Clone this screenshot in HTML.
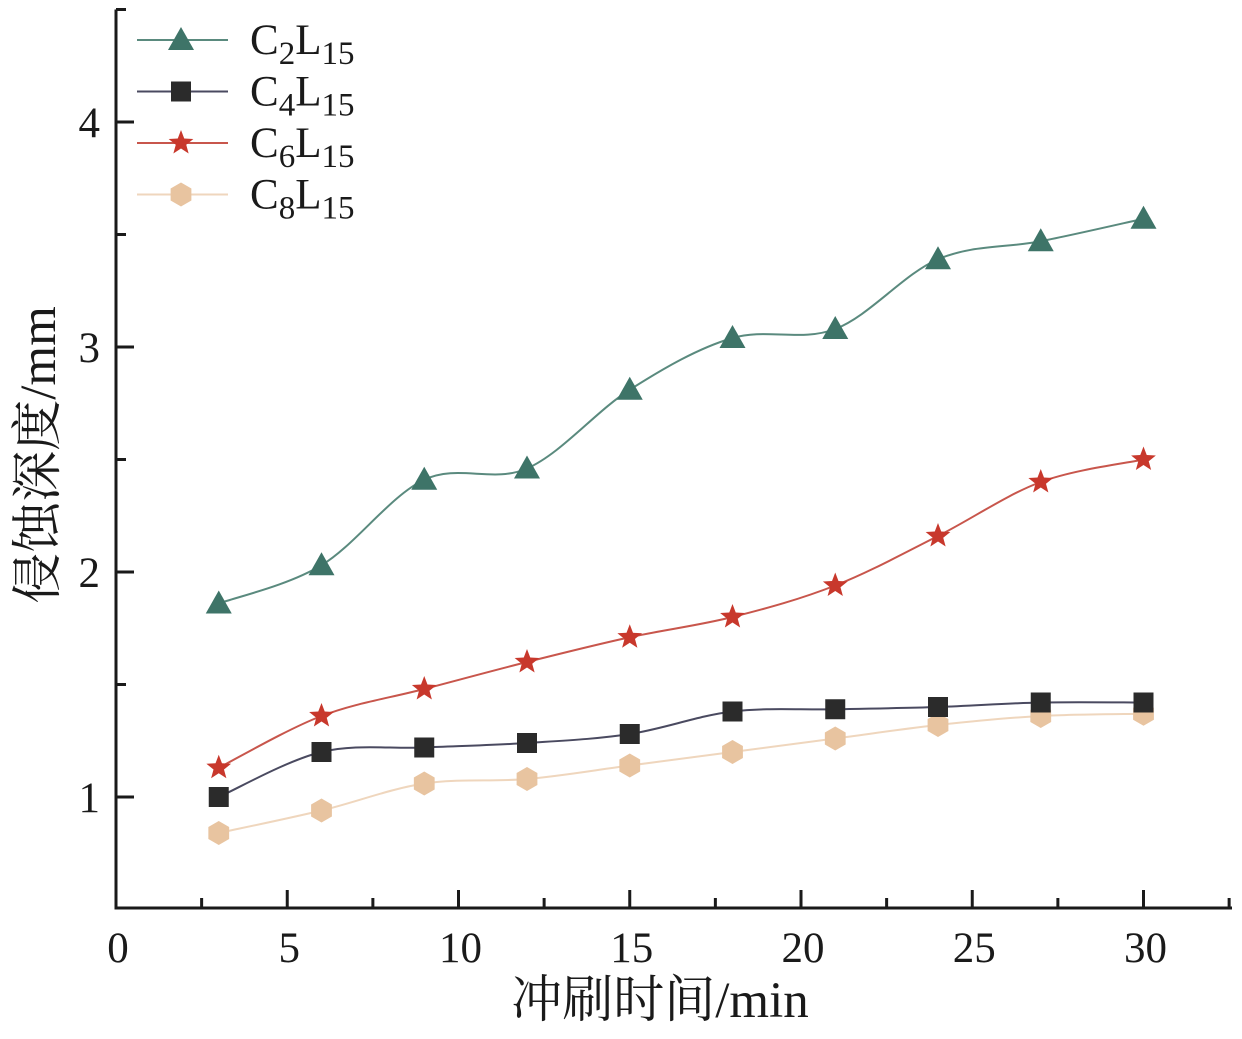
<!DOCTYPE html>
<html><head><meta charset="utf-8"><style>
body{margin:0;background:#fff}
svg text{font-family:"Liberation Serif","Noto Serif CJK SC",serif;fill:#1a1a1a}
</style></head><body>
<svg id="chart" width="1242" height="1034" viewBox="0 0 1242 1034" xmlns="http://www.w3.org/2000/svg">
<g id="plot"></g>
</svg>
<script>
const times=[3,6,9,12,15,18,21,24,27,30];
const c2=[1.86,2.03,2.41,2.46,2.81,3.04,3.08,3.39,3.47,3.57];
const c4=[1.00,1.20,1.22,1.24,1.28,1.38,1.39,1.40,1.42,1.42];
const c6=[1.13,1.36,1.48,1.60,1.71,1.80,1.94,2.16,2.40,2.50];
const c8=[0.84,0.94,1.06,1.08,1.14,1.20,1.26,1.32,1.36,1.37];
const xTicks=[0,5,10,15,20,25,30];
const yTicks=[1,2,3,4];
const seriesNames=["C2L15","C4L15","C6L15","C8L15"];
const NS="http://www.w3.org/2000/svg";
const g=document.getElementById('plot');
const X=v=>116+v*34.25, Y=v=>1022-v*225;
function mk(t,a,p){const e=document.createElementNS(NS,t);for(const k in a)e.setAttribute(k,a[k]);(p||g).appendChild(e);return e;}
let ax=mk('path',{d:`M116 ${Y(4.5)} V908 H1232`,fill:'none',stroke:'#1a1a1a','stroke-width':3});


for(let v=2.5;v<=32.5;v+=2.5){const maj=v%5===0;let t=mk('line',{x1:X(v),x2:X(v),y1:908,y2:maj?890:898,stroke:'#1a1a1a','stroke-width':3});

}
for(let v=1.0;v<=4.5;v+=0.5){const maj=v%1===0;let t=mk('line',{x1:116,x2:maj?134:126,y1:Y(v),y2:Y(v),stroke:'#1a1a1a','stroke-width':3});

}
xTicks.forEach(v=>{let t=mk('text',{x:X(v)+2,y:962,'font-size':43,'text-anchor':'middle'});t.textContent=v;

});
yTicks.forEach(v=>{let t=mk('text',{x:100,y:Y(v)+15,'font-size':43,'text-anchor':'end'});t.textContent=v;

});
let xt=mk('text',{x:660,y:1017,'font-size':51,'text-anchor':'middle'});xt.textContent='冲刷时间/min';


let yt=mk('text',{x:0,y:0,'font-size':51,'text-anchor':'middle',transform:'translate(55,455) rotate(-90)'});yt.textContent='侵蚀深度/mm';


function smooth(pts){let d=`M${pts[0][0]} ${pts[0][1]}`;for(let i=0;i<pts.length-1;i++){const p0=pts[i-1]||pts[i],p1=pts[i],p2=pts[i+1],p3=pts[i+2]||p2;
d+=` C${p1[0]+(p2[0]-p0[0])/6} ${p1[1]+(p2[1]-p0[1])/6} ${p2[0]-(p3[0]-p1[0])/6} ${p2[1]-(p3[1]-p1[1])/6} ${p2[0]} ${p2[1]}`;}return d;}
function marker(type,x,y,col,p){
 if(type==='tri')return mk('polygon',{points:`${x},${y-13} ${x+13},${y+10} ${x-13},${y+10}`,fill:col},p);
 if(type==='sq')return mk('rect',{x:x-10,y:y-10,width:20,height:20,fill:col},p);
 if(type==='star'){let s='';for(let i=0;i<10;i++){const r=i%2?5.5:13,a=-Math.PI/2+i*Math.PI/5;s+=`${x+r*Math.cos(a)},${y+r*Math.sin(a)} `;}return mk('polygon',{points:s,fill:col},p);}
 let s='';for(let i=0;i<6;i++){const a=-Math.PI/2+i*Math.PI/3;s+=`${x+12*Math.cos(a)},${y+12*Math.sin(a)} `;}return mk('polygon',{points:s,fill:col},p);
}
const series=[[c8,'hex','#e8c4a0','#efd6bd'],[c4,'sq','#2b2b2b','#4a4a60'],[c6,'star','#c8382c','#c8564c'],[c2,'tri','#3e7468','#5a8a7e']];
series.forEach(([vals,type,col,lc],i)=>{
 const sg=mk('g',{});
 
 
 const pts=times.map((t,j)=>[X(t),Y(vals[j])]);
 mk('path',{d:smooth(pts),fill:'none',stroke:lc,'stroke-width':2},sg);
 pts.forEach(p=>{const m=marker(type,p[0],p[1],col,sg);
 
 });
});
const leg=[['tri','#3e7468','#5a8a7e','2'],['sq','#2b2b2b','#4a4a60','4'],['star','#c8382c','#c8564c','6'],['hex','#e8c4a0','#efd6bd','8']];
const lg=mk('g',{});


leg.forEach(([type,col,lc,n],i)=>{
 const y=40+i*51.5;
 const e=mk('g',{},lg);
 
 
 mk('line',{x1:137,x2:228,y1:y,y2:y,stroke:lc,'stroke-width':2},e);
 marker(type,181,y,col,e);
 const t=mk('text',{x:250,y:y+14,'font-size':43},e);
 t.innerHTML=`C<tspan font-size="33" dy="10">${n}</tspan><tspan dy="-10">L</tspan><tspan font-size="33" dy="10">15</tspan>`;
});
</script>
</body></html>
